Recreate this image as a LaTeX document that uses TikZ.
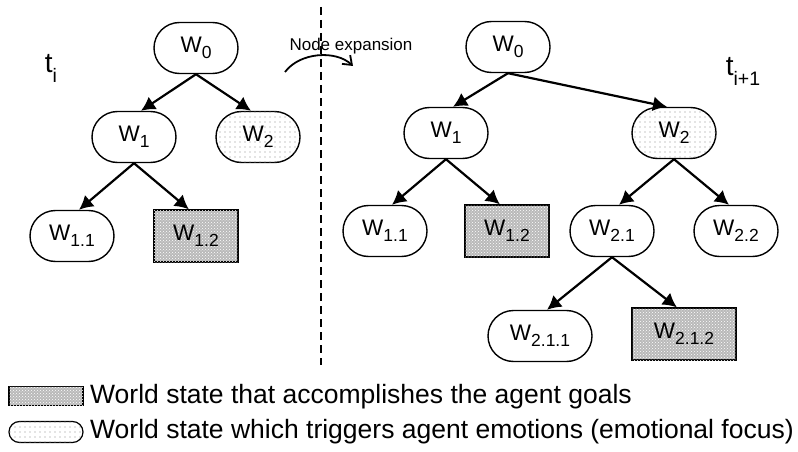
\documentclass[tikz,border=0pt]{standalone}
\usepackage{fontspec}
\setmainfont{Liberation Sans}
\usepackage{tikz}
\usetikzlibrary{arrows.meta}
\usetikzlibrary{shapes.misc,patterns}
\pgfdeclarepatternformonly{sparsedots}{\pgfqpoint{-1pt}{-1pt}}{\pgfqpoint{5pt}{5pt}}{\pgfqpoint{5pt}{5pt}}{
 \pgfpathcircle{\pgfqpoint{0pt}{0pt}}{0.7pt}
 \pgfusepath{fill}
}
\tikzset{
 world/.style={draw, rounded rectangle, line width=1.4pt, minimum width=84pt, minimum height=51pt, inner sep=0pt, font=\fontsize{22.5}{26}\selectfont},
 focus/.style={world, postaction={pattern=sparsedots, pattern color=black!45}},
 goal/.style={draw, rectangle, line width=1.4pt, minimum width=84pt, minimum height=52pt, inner sep=0pt, fill=gray!55, postaction={pattern=crosshatch dots, pattern color=white}, font=\fontsize{22.5}{26}\selectfont},
 link/.style={line width=2.2pt, -{Latex[length=14pt,width=15pt]}},
 stamp/.style={inner sep=0pt, font=\fontsize{28}{30}\selectfont},
 legtext/.style={anchor=west, inner sep=0pt, font=\fontsize{26.5}{30}\selectfont}
}
\newcommand{\ws}[1]{W\raisebox{-6pt}{\fontsize{17.5}{17.5}\selectfont #1}}
\newcommand{\ts}[1]{t\raisebox{-10pt}{\fontsize{19.5}{19.5}\selectfont #1}}

\begin{document}
\begin{tikzpicture}[x=1pt, y=-1pt]
\useasboundingbox (0,0) rectangle (798,452);
% before
\node[world] (L0) at (196,48) {\ws{0}};
\node[world] (L1) at (134,137) {\ws{1}};
\node[focus] (L2) at (258,137) {\ws{2}};
\node[world] (L11) at (72,236) {\ws{1.1}};
\node[goal] (L12) at (196,236) {\ws{1.2}};
\node[stamp] (ti) at (51,68) {\ts{i}};
\draw[link] (L0.south) -- (L1.75);
\draw[link] (L0.south) -- (L2.105);
\draw[link] (L1.south) -- (L11.75);
\draw[link] (L1.south) -- (L12.105);
% expansion
\coordinate (dtop) at (321,7);
\coordinate (dbot) at (321,365);
\draw[line width=1.4pt, dash pattern=on 8pt off 5pt] (dtop) -- (dbot);
\node[font=\fontsize{17}{20}\selectfont, inner sep=0pt] (expand) at (351,46) {Node expansion};
\coordinate (es) at (285,72);
\coordinate (ee) at (353,66);
\draw[line width=1.8pt, -{Straight Barb[length=8pt,width=12pt]}] (es) .. controls (300,52) and (336,50) .. (ee);
% after
\node[world] (R0) at (508,47) {\ws{0}};
\node[world] (R1) at (446,133) {\ws{1}};
\node[focus] (R2) at (674,133) {\ws{2}};
\node[world] (R11) at (385,231) {\ws{1.1}};
\node[goal] (R12) at (507,231) {\ws{1.2}};
\node[world] (R21) at (612,231) {\ws{2.1}};
\node[world] (R22) at (736,231) {\ws{2.2}};
\node[world, minimum width=104pt] (R211) at (540,336) {\ws{2.1.1}};
\node[goal, minimum width=104pt] (R212) at (684,334) {\ws{2.1.2}};
\node[stamp] (tnext) at (743,71) {\ts{i+1}};
\draw[link] (R0.south) -- (R1.75);
\draw[link] (R0.south) -- (R2.105);
\draw[link] (R1.south) -- (R11.75);
\draw[link] (R1.south) -- (R12.105);
\draw[link] (R2.south) -- (R21.75);
\draw[link] (R2.south) -- (R22.105);
\draw[link] (R21.south) -- (R211.75);
\draw[link] (R21.south) -- (R212.105);
% legend
\node[goal, minimum width=74pt, minimum height=19pt, line width=1.2pt] (kgoal) at (46,396) {};
\node[focus, minimum width=74pt, minimum height=21pt, line width=1.2pt] (kfocus) at (46,432) {};
\node[legtext] (tgoal) at (90,397) {World state that accomplishes the agent goals};
\node[legtext] (tfocus) at (90,432) {World state which triggers agent emotions (emotional focus)};
\end{tikzpicture}
\end{document}
